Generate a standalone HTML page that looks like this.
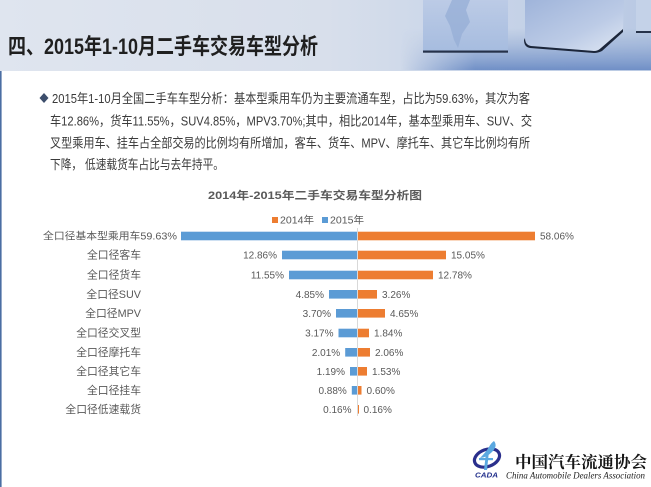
<!DOCTYPE html>
<html><head><meta charset="utf-8"><style>
html,body{margin:0;padding:0;background:#fff;}
svg{display:block;}
</style></head><body>
<svg width="651" height="487" viewBox="0 0 651 487" xmlns="http://www.w3.org/2000/svg">
<defs>
<linearGradient id="hdr" x1="0" y1="0" x2="1" y2="0">
<stop offset="0" stop-color="#dfe5ef"/>
<stop offset="0.5" stop-color="#d8dfeb"/>
<stop offset="0.66" stop-color="#cdd8ea"/>
<stop offset="1" stop-color="#b9c9e3"/>
</linearGradient>
<linearGradient id="floor" x1="0" y1="0" x2="0" y2="1">
<stop offset="0" stop-color="#8ea8d2" stop-opacity="0"/>
<stop offset="1" stop-color="#6d8dc5" stop-opacity="1"/>
</linearGradient>
<linearGradient id="floorx" x1="0" y1="0" x2="1" y2="0">
<stop offset="0" stop-color="#fff" stop-opacity="0"/>
<stop offset="0.3" stop-color="#fff" stop-opacity="1"/>
</linearGradient>
<mask id="fm"><rect x="400" y="0" width="251" height="70" fill="url(#floorx)"/></mask>
<linearGradient id="box" x1="0" y1="0" x2="0" y2="1">
<stop offset="0" stop-color="#bccbe6"/>
<stop offset="1" stop-color="#a6bcdf"/>
</linearGradient>
<linearGradient id="box2" x1="0" y1="0" x2="1" y2="1">
<stop offset="0" stop-color="#9fb4da"/>
<stop offset="0.6" stop-color="#bccbe6"/>
<stop offset="1" stop-color="#dfe7f3"/>
</linearGradient>
</defs>

<!-- header -->
<rect x="0" y="0" width="651" height="71" fill="url(#hdr)"/>
<rect x="400" y="28" width="251" height="43" fill="url(#floor)" mask="url(#fm)"/>
<!-- box 1 -->
<rect x="423" y="0" width="85" height="52" fill="url(#box)"/>
<path d="M452 0 L470 0 L466 10 L470 22 L462 34 L458 48 L454 40 L450 26 L445 16 Z" fill="#96aed6" opacity="0.75"/>
<rect x="423" y="50.5" width="85" height="2.2" fill="#26324a"/>
<!-- box 2 -->
<path d="M525 0 L624 0 L623 30 L600 49 Q598 51 594 51 L530 46 Q525 45 525 40 Z" fill="url(#box2)"/>
<path d="M525 38 Q525 45 531 46 L594 51 Q598 51 601 48 L623 29 L623 32 L602 51 Q598 53 594 53 L530 48 Q524 47 524 40 Z" fill="#1c263a"/>
<!-- box 3 -->
<path d="M636 0 L651 0 L651 33 L638 33 Q636 33 636 30 Z" fill="#c4d2e8"/>
<rect x="636" y="31" width="15" height="2" fill="#26324a"/>

<!-- header title -->
<text x="8" y="54" font-family="Liberation Sans, Noto Sans CJK SC, sans-serif" font-size="22" font-weight="bold" fill="#1f1f1f" textLength="310" lengthAdjust="spacingAndGlyphs">四、2015年1-10月二手车交易车型分析</text>

<!-- left border -->
<rect x="0" y="71" width="1.6" height="416" fill="#4b6ea3"/>

<!-- paragraph -->
<polygon points="44,93 48.5,98 44,103 39.5,98" fill="#3d4e6c"/>
<g font-family="Liberation Sans, Noto Sans CJK SC, sans-serif" font-size="13" fill="#3a3a3a">
<text x="52" y="103" textLength="478" lengthAdjust="spacingAndGlyphs">2015年1-10月全国二手车车型分析：基本型乘用车仍为主要流通车型，占比为59.63%，其次为客</text>
<text x="50" y="125.5" textLength="482" lengthAdjust="spacingAndGlyphs">车12.86%，货车11.55%，SUV4.85%，MPV3.70%;其中，相比2014年，基本型乘用车、SUV、交</text>
<text x="50" y="147.5" textLength="480" lengthAdjust="spacingAndGlyphs">叉型乘用车、挂车占全部交易的比例均有所增加，客车、货车、MPV、摩托车、其它车比例均有所</text>
<text x="50" y="169" textLength="174" lengthAdjust="spacingAndGlyphs">下降， 低速载货车占比与去年持平。</text>
</g>

<!-- chart title -->
<text x="208" y="199" font-family="Liberation Sans, Noto Sans CJK SC, sans-serif" font-size="11" font-weight="bold" fill="#595959" textLength="214" lengthAdjust="spacingAndGlyphs">2014年-2015年二手车交易车型分析图</text>

<!-- legend -->
<rect x="272" y="217" width="6" height="6" fill="#ed7d31"/>
<text x="280" y="223.5" font-family="Liberation Sans, Noto Sans CJK SC, sans-serif" font-size="10" fill="#595959" textLength="34" lengthAdjust="spacingAndGlyphs">2014年</text>
<rect x="322" y="217" width="6" height="6" fill="#5b9bd5"/>
<text x="330" y="223.5" font-family="Liberation Sans, Noto Sans CJK SC, sans-serif" font-size="10" fill="#595959" textLength="34" lengthAdjust="spacingAndGlyphs">2015年</text>

<!-- axis -->
<line x1="357.5" y1="228" x2="357.5" y2="416" stroke="#d9d9d9" stroke-width="1"/>

<g font-family="Liberation Sans, Noto Sans CJK SC, sans-serif" font-size="10" fill="#595959">
<!-- row 1 -->
<rect x="181" y="231.7" width="176" height="8.6" fill="#5b9bd5"/>
<rect x="358" y="231.7" width="177" height="8.6" fill="#ed7d31"/>
<text x="43" y="239.5" textLength="134" lengthAdjust="spacingAndGlyphs">全口径基本型乘用车59.63%</text>
<text x="540" y="239.5">58.06%</text>
<!-- row 2 -->
<rect x="282" y="250.7" width="75" height="8.6" fill="#5b9bd5"/>
<rect x="358" y="250.7" width="88" height="8.6" fill="#ed7d31"/>
<text x="141" y="258.5" text-anchor="end" font-size="10.8">全口径客车</text>
<text x="277" y="258.5" text-anchor="end">12.86%</text>
<text x="451" y="258.5">15.05%</text>
<!-- row 3 -->
<rect x="289" y="270.7" width="68" height="8.6" fill="#5b9bd5"/>
<rect x="358" y="270.7" width="75" height="8.6" fill="#ed7d31"/>
<text x="141" y="278.5" text-anchor="end" font-size="10.8">全口径货车</text>
<text x="284" y="278.5" text-anchor="end">11.55%</text>
<text x="438" y="278.5">12.78%</text>
<!-- row 4 -->
<rect x="329" y="290" width="28" height="8.6" fill="#5b9bd5"/>
<rect x="358" y="290" width="19" height="8.6" fill="#ed7d31"/>
<text x="141" y="297.8" text-anchor="end" font-size="10.8">全口径SUV</text>
<text x="324" y="297.8" text-anchor="end">4.85%</text>
<text x="382" y="297.8">3.26%</text>
<!-- row 5 -->
<rect x="336" y="309" width="21" height="8.6" fill="#5b9bd5"/>
<rect x="358" y="309" width="27" height="8.6" fill="#ed7d31"/>
<text x="141" y="316.8" text-anchor="end" font-size="10.8">全口径MPV</text>
<text x="331" y="316.8" text-anchor="end">3.70%</text>
<text x="390" y="316.8">4.65%</text>
<!-- row 6 -->
<rect x="338.5" y="328.7" width="18.5" height="8.6" fill="#5b9bd5"/>
<rect x="358" y="328.7" width="11" height="8.6" fill="#ed7d31"/>
<text x="141" y="336.5" text-anchor="end" font-size="10.8">全口径交叉型</text>
<text x="333.5" y="336.5" text-anchor="end">3.17%</text>
<text x="374" y="336.5">1.84%</text>
<!-- row 7 -->
<rect x="345.2" y="348" width="11.8" height="8.6" fill="#5b9bd5"/>
<rect x="358" y="348" width="12" height="8.6" fill="#ed7d31"/>
<text x="141" y="355.8" text-anchor="end" font-size="10.8">全口径摩托车</text>
<text x="340.2" y="355.8" text-anchor="end">2.01%</text>
<text x="375" y="355.8">2.06%</text>
<!-- row 8 -->
<rect x="350" y="367" width="7" height="8.6" fill="#5b9bd5"/>
<rect x="358" y="367" width="9" height="8.6" fill="#ed7d31"/>
<text x="141" y="374.8" text-anchor="end" font-size="10.8">全口径其它车</text>
<text x="345" y="374.8" text-anchor="end">1.19%</text>
<text x="372" y="374.8">1.53%</text>
<!-- row 9 -->
<rect x="351.8" y="386" width="5.2" height="8.6" fill="#5b9bd5"/>
<rect x="358" y="386" width="3.5" height="8.6" fill="#ed7d31"/>
<text x="141" y="393.8" text-anchor="end" font-size="10.8">全口径挂车</text>
<text x="346.8" y="393.8" text-anchor="end">0.88%</text>
<text x="366.5" y="393.8">0.60%</text>
<!-- row 10 -->
<rect x="358" y="405" width="1" height="8.6" fill="#ed7d31"/>
<text x="141" y="412.8" text-anchor="end" font-size="10.8">全口径低速载货</text>
<text x="351.5" y="412.8" text-anchor="end">0.16%</text>
<text x="363.5" y="412.8">0.16%</text>
</g>

<!-- logo -->
<g>
<ellipse cx="487" cy="458" rx="13" ry="8.5" fill="none" stroke="#2a2f8c" stroke-width="3.2" transform="rotate(-20 487 458)"/>
<path d="M494 441 Q498 446 492 452 Q486 458 480 458 Q486 452 489 447 Q491 443 494 441 Z" fill="#5aa8e0"/>
<path d="M489 451 L487 470 L484 470 L486 453 Z" fill="#5aa8e0"/>
<rect x="479" y="458" width="14" height="2.2" fill="#5aa8e0"/>
<text x="475" y="477.5" font-family="Liberation Sans, sans-serif" font-size="7.5" font-weight="bold" font-style="italic" fill="#23308c" textLength="23" lengthAdjust="spacingAndGlyphs">CADA</text>
</g>
<text x="515" y="467.5" font-family="Liberation Serif, Noto Serif CJK SC, serif" font-size="16" font-weight="bold" fill="#151515" textLength="132" lengthAdjust="spacingAndGlyphs">中国汽车流通协会</text>
<text x="506" y="478.5" font-family="Liberation Serif, serif" font-size="9" font-style="italic" fill="#222" textLength="139" lengthAdjust="spacingAndGlyphs">China Automobile Dealers Association</text>
</svg>
</body></html>
